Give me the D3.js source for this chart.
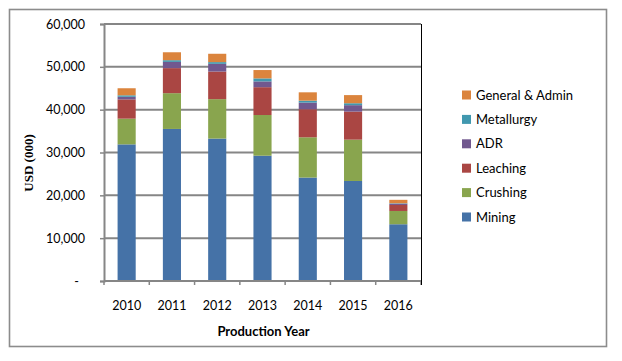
<!DOCTYPE html>
<html>
<head>
<meta charset="utf-8">
<script src="https://d3js.org/d3.v7.min.js"></script>
<style>
  body { margin: 0; background: #fff; }
  text { font-family: Lato, "Open Sans", sans-serif; fill: #000; }
</style>
</head>
<body>
<div class="chart"></div>
<script>
// chart data
let years = ["2010", "2011", "2012", "2013", "2014", "2015", "2016"];
let seriesNames = ["Mining", "Crushing", "Leaching", "ADR", "Metallurgy", "General & Admin"];
let mining = [31900, 35500, 33250, 29250, 24150, 23350, 13250];
let crushing = [6000, 8350, 9200, 9500, 9400, 9650, 3100];
let leaching = [4500, 5850, 6450, 6500, 6550, 6550, 1400];
let adr = [600, 1450, 1800, 1350, 1550, 1500, 300];
let metallurgy = [350, 400, 400, 700, 450, 450, 100];
let genAdmin = [1650, 1850, 1950, 1950, 1950, 1900, 800];
let yTicks = [0, 10000, 20000, 30000, 40000, 50000, 60000];
let colors = ["#4572A7", "#89A54E", "#AA4643", "#71588F", "#4198AF", "#DB843D"];

let svgWidth = 622;
let svgHeight = 361;
let margin = { top: 24, right: 201, bottom: 80, left: 104 };
let width = svgWidth - margin.left - margin.right;
let height = svgHeight - margin.top - margin.bottom;

let svg = d3.select(".chart")
  .append("svg")
  .attr("width", svgWidth)
  .attr("height", svgHeight);

// outer border
svg.append("rect")
  .attr("x", 9.5)
  .attr("y", 9.5)
  .attr("width", 597)
  .attr("height", 337)
  .attr("fill", "none")
  .attr("stroke", "#8c8c8c")
  .attr("stroke-width", 1.6);

let chartGroup = svg.append("g")
  .attr("transform", `translate(${margin.left}, ${margin.top})`);

// build table for stacking
let allSeries = [mining, crushing, leaching, adr, metallurgy, genAdmin];
let table = years.map((yr, i) => {
  let row = { year: yr };
  seriesNames.forEach((s, j) => { row[s] = allSeries[j][i]; });
  return row;
});
let stacked = d3.stack().keys(seriesNames)(table);

let xBand = d3.scaleBand()
  .domain(years)
  .range([0, width])
  .paddingInner(0.6)
  .paddingOuter(0.3);

let yLinearScale = d3.scaleLinear()
  .domain([0, 60000])
  .range([height, 0]);

// gridlines
chartGroup.append("g")
  .selectAll("line")
  .data(yTicks.slice(1))
  .enter()
  .append("line")
  .attr("x1", 0)
  .attr("x2", width)
  .attr("y1", d => yLinearScale(d))
  .attr("y2", d => yLinearScale(d))
  .attr("stroke", "#868686")
  .attr("stroke-width", 2);

// bars
chartGroup.append("g")
  .selectAll("g")
  .data(stacked)
  .enter()
  .append("g")
  .attr("fill", (d, i) => colors[i])
  .selectAll("rect")
  .data(d => d)
  .enter()
  .append("rect")
  .attr("x", d => xBand(d.data.year))
  .attr("width", xBand.bandwidth())
  .attr("y", d => yLinearScale(d[1]))
  .attr("height", d => yLinearScale(d[0]) - yLinearScale(d[1]));

// left axis
let leftAxis = d3.axisLeft(yLinearScale)
  .tickValues(yTicks)
  .tickSize(4)
  .tickPadding(15)
  .tickFormat(d => d === 0 ? "-" : d3.format(",")(d));
let yAxis = chartGroup.append("g").call(leftAxis);
yAxis.select(".domain").attr("stroke", "#868686").attr("stroke-width", 2);
yAxis.selectAll(".tick line").attr("stroke", "#868686").attr("stroke-width", 1.5);
yAxis.selectAll("text")
  .style("font-size", "12.5px")
  .attr("dx", d => d === 0 ? -6 : 0);

// bottom axis with ticks between categories
let xEdge = d3.scaleLinear().domain([0, years.length]).range([0, width]);
chartGroup.append("line")
  .attr("x1", 0).attr("x2", width)
  .attr("y1", height).attr("y2", height)
  .attr("stroke", "#868686")
  .attr("stroke-width", 2);
chartGroup.append("g")
  .selectAll("line")
  .data(d3.range(years.length + 1))
  .enter()
  .append("line")
  .attr("x1", d => xEdge(d))
  .attr("x2", d => xEdge(d))
  .attr("y1", height)
  .attr("y2", height + 4)
  .attr("stroke", "#868686")
  .attr("stroke-width", 1.5);
chartGroup.append("g")
  .selectAll("text")
  .data(years)
  .enter()
  .append("text")
  .attr("x", d => xBand(d) + xBand.bandwidth() / 2)
  .attr("y", height + 29)
  .attr("text-anchor", "middle")
  .style("font-size", "12.5px")
  .text(d => d);

// right edge line
chartGroup.append("line")
  .attr("x1", width + 0.5).attr("x2", width + 0.5)
  .attr("y1", 0).attr("y2", height + 4)
  .attr("stroke", "#000")
  .attr("stroke-width", 1);

// axis titles
chartGroup.append("text")
  .attr("x", width / 2 + 1)
  .attr("y", height + 55)
  .attr("text-anchor", "middle")
  .style("font-size", "13px")
  .style("font-weight", "bold")
  .text("Production Year");

svg.append("text")
  .attr("transform", "translate(33, 163) rotate(-90)")
  .attr("text-anchor", "middle")
  .style("font-family", "'Liberation Serif', serif")
  .style("font-size", "13px")
  .style("font-weight", "bold")
  .text("USD (000)");

// legend (reverse order, top is General & Admin)
let legend = svg.append("g")
  .attr("transform", "translate(462, 95)");
let legendItems = legend.selectAll("g")
  .data(seriesNames.slice().reverse())
  .enter()
  .append("g")
  .attr("transform", (d, i) => `translate(0, ${i * 24.4})`);
legendItems.append("rect")
  .attr("x", 0)
  .attr("y", -4.5)
  .attr("width", 9)
  .attr("height", 9)
  .attr("fill", d => colors[seriesNames.indexOf(d)]);
legendItems.append("text")
  .attr("x", 14)
  .attr("y", 4.5)
  .style("font-size", "13px")
  .text(d => d);
</script>
</body>
</html>
